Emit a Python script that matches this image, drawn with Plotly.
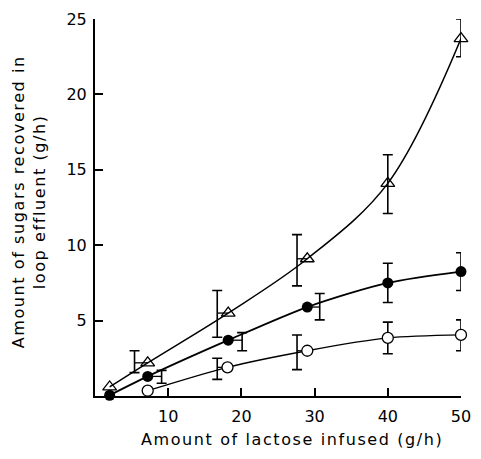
import plotly.graph_objects as go

# ---- data ----
# open triangles
tri_x = [2, 7.2, 18.2, 29, 40, 50]
tri_y = [0.6, 2.2, 5.5, 9.1, 14.1, 23.7]
tri_err_x = [5.4, 16.7, 27.6, 40, 50]
tri_err_pt = [7.2, 18.2, 29, 40, 50]
tri_err_y = [2.2, 5.5, 9.1, 14.1, 23.7]
tri_hi = [3.0, 7.0, 10.7, 16.0, 25.0]
tri_lo = [1.55, 3.9, 7.3, 12.1, 22.5]

# filled circles
fc_x = [2, 7.2, 18.2, 29, 40, 50]
fc_y = [0.05, 1.3, 3.7, 5.9, 7.5, 8.25]
fc_err_x = [9.1, 20.1, 30.7, 40, 50]
fc_err_pt = [7.2, 18.2, 29, 40, 50]
fc_err_y = [1.3, 3.7, 5.9, 7.5, 8.25]
fc_hi = [1.7, 4.2, 6.8, 8.8, 9.5]
fc_lo = [0.85, 3.0, 5.05, 6.2, 7.0]

# open circles
oc_x = [7.2, 18.1, 29, 40, 50]
oc_y = [0.35, 1.9, 3.0, 3.85, 4.05]
oc_err_x = [16.7, 27.6, 40, 50]
oc_err_pt = [18.1, 29, 40, 50]
oc_err_y = [1.9, 3.0, 3.85, 4.05]
oc_hi = [2.5, 4.05, 4.9, 5.05]
oc_lo = [1.1, 1.75, 2.8, 3.0]

x_ticks = [10, 20, 30, 40, 50]
y_ticks = [5, 10, 15, 20, 25]

x_title = "Amount of lactose infused (g/h)"
y_title_lines = ["Amount of sugars recovered in", "loop effluent (g/h)"]

FONT = "DejaVu Sans"
fig = go.Figure()


def add_err(ex, ept, ey, hi, lo):
    plus_x = [max(p - e, 0) for p, e in zip(ept, ex)]
    minus_x = [max(e - p, 0) for p, e in zip(ept, ex)]
    fig.add_trace(go.Scatter(
        x=ex, y=ey, mode="markers", marker=dict(size=1, color="rgba(0,0,0,0)"),
        error_y=dict(type="data", symmetric=False,
                     array=[h - y for h, y in zip(hi, ey)],
                     arrayminus=[y - l for l, y in zip(lo, ey)],
                     color="black", thickness=1.6, width=5),
        error_x=dict(type="data", symmetric=False, array=plus_x, arrayminus=minus_x,
                     color="black", thickness=1.3, width=0),
        showlegend=False, hoverinfo="skip", cliponaxis=False))


add_err(tri_err_x, tri_err_pt, tri_err_y, tri_hi, tri_lo)
add_err(fc_err_x, fc_err_pt, fc_err_y, fc_hi, fc_lo)
add_err(oc_err_x, oc_err_pt, oc_err_y, oc_hi, oc_lo)

fig.add_trace(go.Scatter(x=tri_x, y=tri_y, mode="lines+markers",
                         line=dict(color="black", width=1.5, shape="spline", smoothing=1.0),
                         marker=dict(symbol="triangle-up-open", size=12, color="black",
                                     line=dict(width=1.3)),
                         showlegend=False, cliponaxis=False))
fig.add_trace(go.Scatter(x=fc_x, y=fc_y, mode="lines+markers",
                         line=dict(color="black", width=1.8, shape="spline", smoothing=0.8),
                         marker=dict(symbol="circle", size=11, color="black"),
                         showlegend=False, cliponaxis=False))
fig.add_trace(go.Scatter(x=oc_x, y=oc_y, mode="lines+markers",
                         line=dict(color="black", width=1.3, shape="spline", smoothing=0.8),
                         marker=dict(symbol="circle", size=11, color="white",
                                     line=dict(color="black", width=1.3)),
                         showlegend=False, cliponaxis=False))

SP = '<span style="letter-spacing:1.6px">{}</span>'

fig.update_layout(
    width=481, height=459,
    margin=dict(l=95, r=10, t=16, b=63),
    plot_bgcolor="white", paper_bgcolor="white",
    font=dict(family=FONT, size=16, color="black"),
    xaxis=dict(range=[0, 50], tickvals=x_ticks, ticktext=[str(v) for v in x_ticks],
               ticks="inside", ticklen=8, tickwidth=1.5, tickcolor="black",
               showline=True, linecolor="black", linewidth=2, showgrid=False,
               zeroline=False, ticklabelstandoff=5, ticklabeloverflow="allow",
               tickfont=dict(size=16, family=FONT)),
    yaxis=dict(range=[0, 25], tickvals=y_ticks, ticktext=[str(v) for v in y_ticks],
               ticks="inside", ticklen=8, tickwidth=1.5, tickcolor="black",
               showline=True, linecolor="black", linewidth=2, showgrid=False,
               zeroline=False, ticklabelstandoff=3, ticklabeloverflow="allow",
               tickfont=dict(size=16, family=FONT)),
    annotations=[
        dict(text=SP.format(x_title), xref="paper", yref="paper",
             x=(297 - 95) / 376, y=(396 - 440) / 380, xanchor="center", yanchor="middle",
             showarrow=False, font=dict(size=16, family=FONT)),
        dict(text="<br>".join(SP.format(t) for t in y_title_lines), xref="paper",
             yref="paper", x=(27 - 95) / 376, y=(396 - 200) / 380, xanchor="center",
             yanchor="middle", textangle=-90, showarrow=False,
             font=dict(size=16, family=FONT)),
    ],
)

fig.write_html("out.html")
